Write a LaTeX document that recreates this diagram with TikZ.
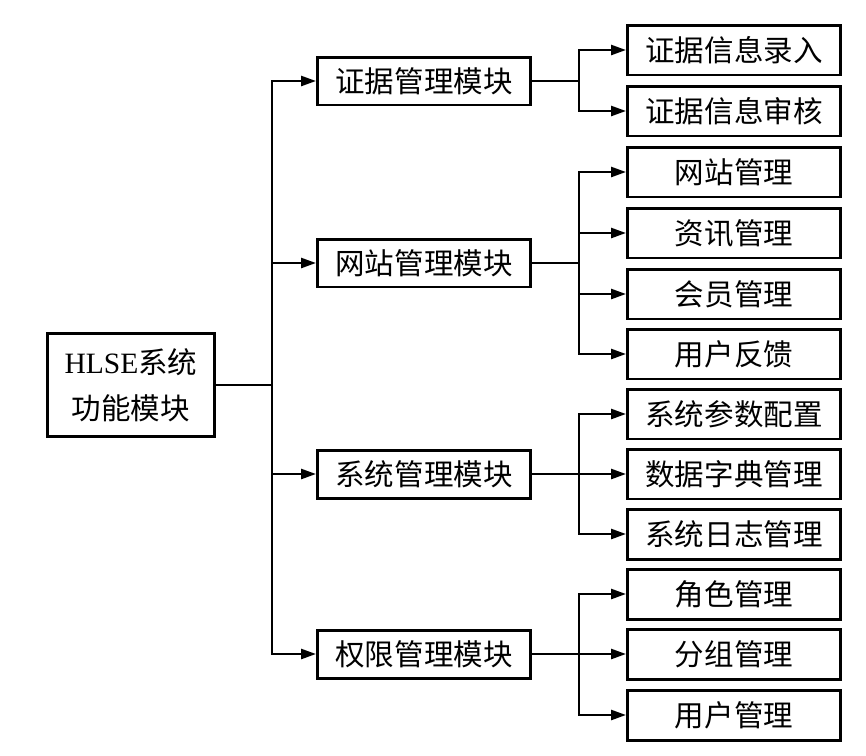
\documentclass[tikz,border=0pt]{standalone}
\usepackage{fontspec}
\setmainfont{Liberation Serif}
\newfontfamily\cjk{Noto Sans CJK SC}
\usetikzlibrary{arrows.meta}

\tikzstyle{textonly}=[align=center, inner sep=0pt]
\tikzstyle{box}=[textonly, rectangle, draw=black, line width=1.7pt]
\tikzstyle{rootbox}=[box, minimum width=3.36cm, minimum height=2.06cm]
\tikzstyle{midbox}=[box, minimum width=4.26cm, minimum height=0.96cm]
\tikzstyle{leafbox}=[box, minimum width=4.26cm, minimum height=1cm]
\tikzstyle{link}=[line width=1.4pt, line cap=rect]
\tikzstyle{arrow}=[line width=1.4pt, -{Triangle[length=0.3cm, width=0.2cm]}]

\begin{document}
\begin{tikzpicture}[x=0.02cm, y=-0.02cm, font=\cjk\fontsize{16.8}{26}\selectfont]
  \useasboundingbox (0,0) rectangle (866,755);

  % Nodes
  \node (root) [rootbox] at (131,385) {{\rmfamily HLSE}系统\\功能模块};

  \node (evi) [midbox] at (424,81) {证据管理模块};
  \node (web) [midbox] at (424,263) {网站管理模块};
  \node (sys) [midbox] at (424,474) {系统管理模块};
  \node (perm) [midbox] at (424,654) {权限管理模块};

  \node (evi1) [leafbox] at (734,50) {证据信息录入};
  \node (evi2) [leafbox] at (734,111) {证据信息审核};
  \node (web1) [leafbox] at (734,172) {网站管理};
  \node (web2) [leafbox] at (734,233) {资讯管理};
  \node (web3) [leafbox] at (734,294) {会员管理};
  \node (web4) [leafbox] at (734,354) {用户反馈};
  \node (sys1) [leafbox] at (734,414) {系统参数配置};
  \node (sys2) [leafbox] at (734,474) {数据字典管理};
  \node (sys3) [leafbox] at (734,534) {系统日志管理};
  \node (perm1) [leafbox] at (734,594) {角色管理};
  \node (perm2) [leafbox] at (734,654) {分组管理};
  \node (perm3) [leafbox] at (734,715) {用户管理};

  % Bus points
  \coordinate (trunk) at (272,385);
  \coordinate (eviBus) at (579,81);
  \coordinate (webBus) at (579,263);
  \coordinate (sysBus) at (579,474);
  \coordinate (permBus) at (579,654);

  % Arrows
  \draw [link] (root) -- (trunk);
  \draw [link] (trunk |- evi) -- (trunk |- perm);
  \foreach \m in {evi,web,sys,perm}
    \draw [arrow] (trunk |- \m) -- (\m);

  \draw [link] (evi) -- (eviBus);
  \draw [link] (eviBus |- evi1) -- (eviBus |- evi2);
  \foreach \l in {evi1,evi2}
    \draw [arrow] (eviBus |- \l) -- (\l);

  \draw [link] (web) -- (webBus);
  \draw [link] (webBus |- web1) -- (webBus |- web4);
  \foreach \l in {web1,web2,web3,web4}
    \draw [arrow] (webBus |- \l) -- (\l);

  \draw [link] (sys) -- (sysBus);
  \draw [link] (sysBus |- sys1) -- (sysBus |- sys3);
  \foreach \l in {sys1,sys2,sys3}
    \draw [arrow] (sysBus |- \l) -- (\l);

  \draw [link] (perm) -- (permBus);
  \draw [link] (permBus |- perm1) -- (permBus |- perm3);
  \foreach \l in {perm1,perm2,perm3}
    \draw [arrow] (permBus |- \l) -- (\l);
\end{tikzpicture}
\end{document}
